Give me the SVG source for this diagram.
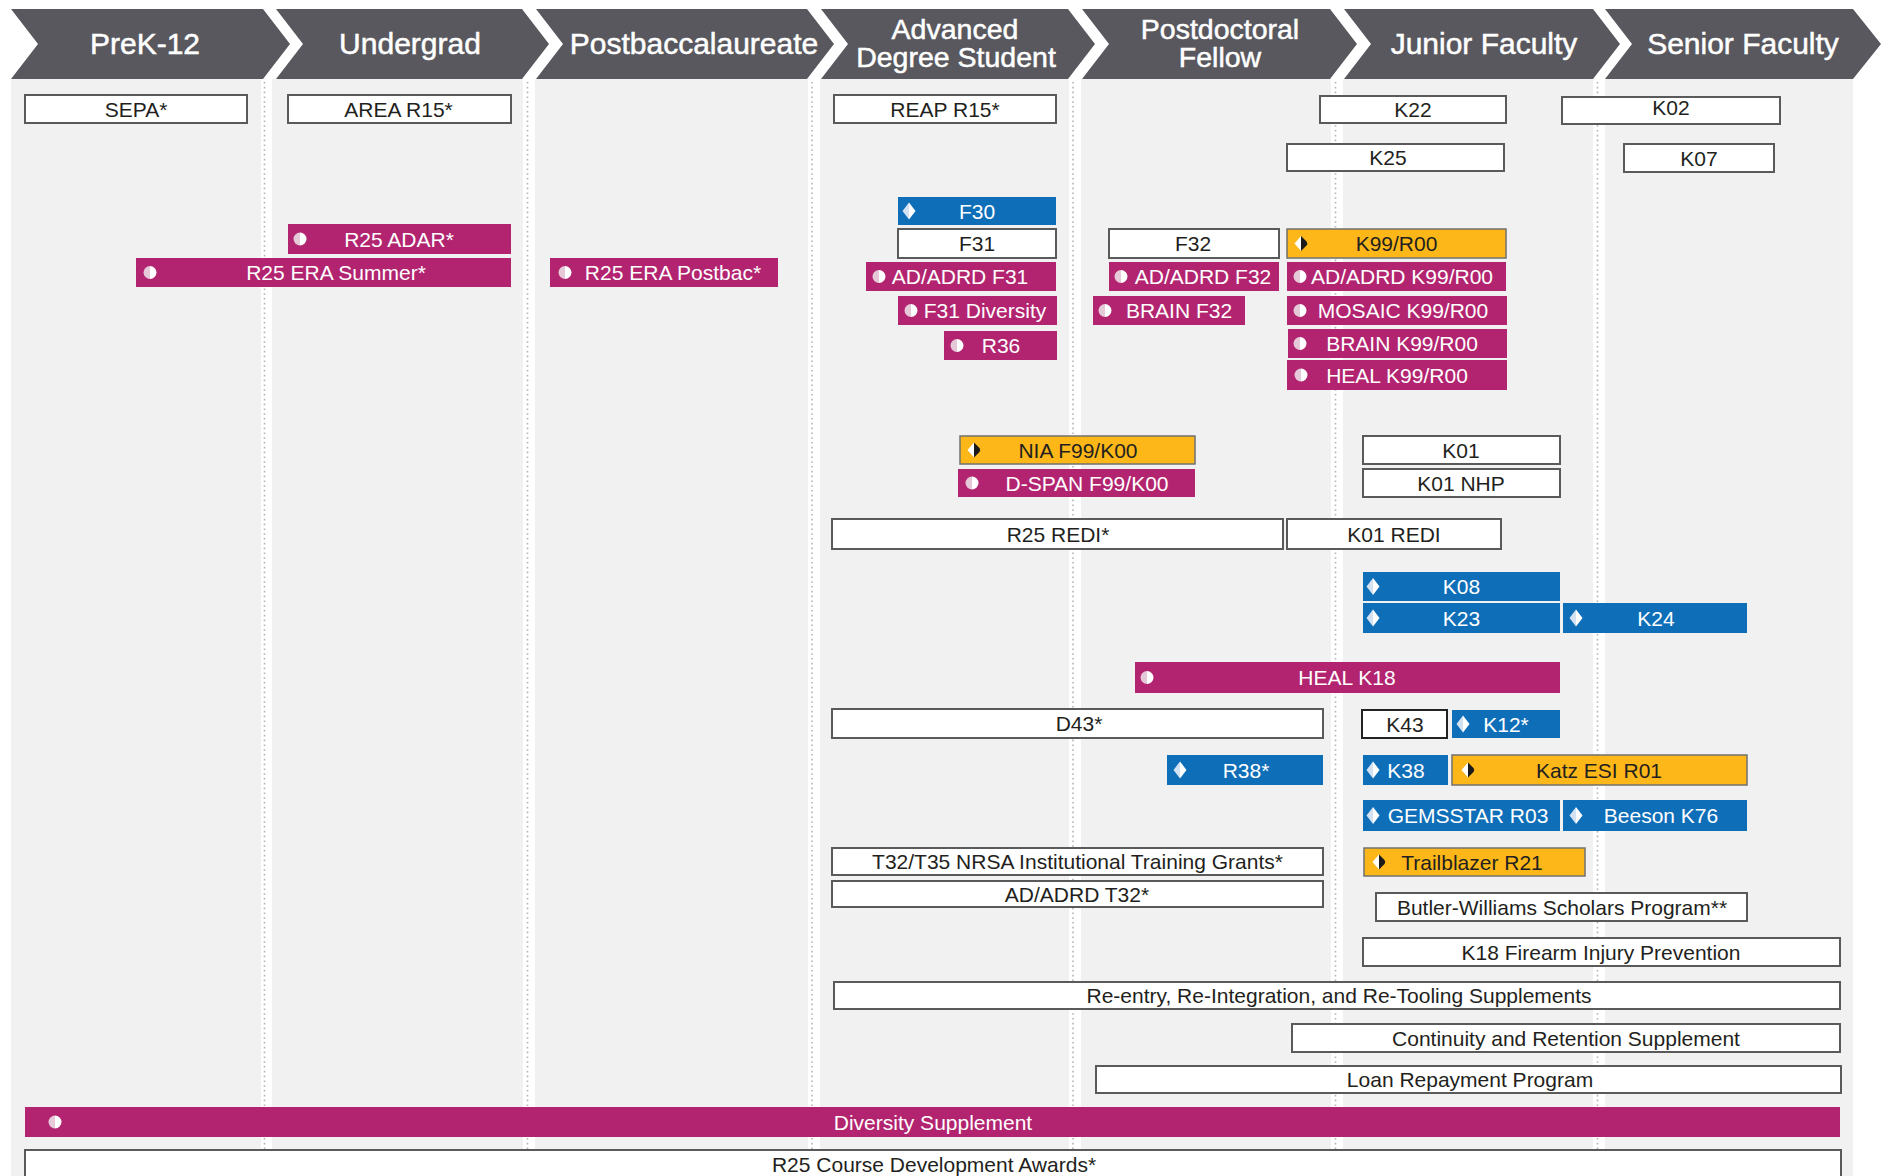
<svg xmlns="http://www.w3.org/2000/svg" width="1890" height="1176" viewBox="0 0 1890 1176">
<style>
.hd{fill:#59585e}
.col{fill:#f1f1f1}
.div{stroke:#b4b4b4;stroke-width:1.6;stroke-dasharray:1.6 3.2;fill:none}
.ht{font-family:"Liberation Sans",Arial,sans-serif;font-size:30px;fill:#fff;stroke:#fff;stroke-width:0.5;text-anchor:middle}
.ht2{font-size:28.5px}
.t{font-family:"Liberation Sans",Arial,sans-serif;font-size:21px;text-anchor:middle}
.w rect{fill:#fff;stroke:#5a5a5a;stroke-width:2}
.w text{fill:#231f20}
.m rect{fill:#b22470}
.m text{fill:#fff}
.b rect{fill:#0e6eb8}
.b text{fill:#fff}
.g rect{fill:#fdb718;stroke:#707070;stroke-width:1.5}
.g text{fill:#231f20}
</style>
<defs>
<g id="icm"><path d="M0,-6.5 A6.5,6.5 0 0 0 0,6.5 Z" fill="#e6c9d8"/><path d="M0,-6.5 A6.5,6.5 0 0 1 0,6.5 Z" fill="#fff"/></g>
<g id="icb"><polygon points="0,-8.5 -6.5,0 0,8.5" fill="#d3e2f2"/><polygon points="0,-8.5 6.5,0 0,8.5" fill="#fff"/></g>
<g id="icg"><polygon points="0,-7.5 -6.5,0 0,7.5" fill="#fff"/><path d="M0,-7.5 L5.5,-2 Q7,0 5.5,2 L0,7.5 Z" fill="#1a1a1a"/></g>
</defs>

<g id="background">
<rect class="col" x="11" y="79" width="250" height="1097"/>
<rect class="col" x="272" y="79" width="251" height="1097"/>
<rect class="col" x="535" y="79" width="273" height="1097"/>
<rect class="col" x="820" y="79" width="249" height="1097"/>
<rect class="col" x="1081" y="79" width="250" height="1097"/>
<rect class="col" x="1343" y="79" width="250" height="1097"/>
<rect class="col" x="1605" y="79" width="248" height="1097"/>
<line class="div" x1="264.5" y1="82" x2="264.5" y2="1176"/>
<line class="div" x1="527.5" y1="82" x2="527.5" y2="1176"/>
<line class="div" x1="812" y1="82" x2="812" y2="1176"/>
<line class="div" x1="1073" y1="82" x2="1073" y2="1176"/>
<line class="div" x1="1335.5" y1="82" x2="1335.5" y2="1176"/>
<line class="div" x1="1597.5" y1="82" x2="1597.5" y2="1176"/>
</g>

<g id="header-prek12"><path class="hd" d="M11,9 L263,9 L290,44 L263,79 L11,79 L38,44 Z"/><text class="ht" x="145" y="54">PreK-12</text></g>
<g id="header-undergrad"><path class="hd" d="M276,9 L522,9 L549,44 L522,79 L276,79 L303,44 Z"/><text class="ht" x="410" y="54">Undergrad</text></g>
<g id="header-postbacc"><path class="hd" d="M536,9 L807,9 L834,44 L807,79 L536,79 L563,44 Z"/><text class="ht" x="694" y="54">Postbaccalaureate</text></g>
<g id="header-advanced"><path class="hd" d="M821,9 L1068,9 L1095,44 L1068,79 L821,79 L848,44 Z"/><text class="ht ht2" x="955" y="39">Advanced</text><text class="ht ht2" x="956" y="67">Degree Student</text></g>
<g id="header-postdoc"><path class="hd" d="M1082,9 L1330,9 L1357,44 L1330,79 L1082,79 L1109,44 Z"/><text class="ht ht2" x="1220" y="39">Postdoctoral</text><text class="ht ht2" x="1220" y="67">Fellow</text></g>
<g id="header-junior"><path class="hd" d="M1344,9 L1593,9 L1620,44 L1593,79 L1344,79 L1371,44 Z"/><text class="ht" x="1484" y="54">Junior Faculty</text></g>
<g id="header-senior"><path class="hd" d="M1605,9 L1853,9 L1881,44 L1853,79 L1605,79 L1632,44 Z"/><text class="ht" x="1743" y="54">Senior Faculty</text></g>

<!-- white boxes -->
<g id="sepa" class="w"><rect x="25" y="95" width="222" height="28"/><text class="t" x="136" y="116.5">SEPA*</text></g>
<g id="area-r15" class="w"><rect x="288" y="95" width="223" height="28"/><text class="t" x="398.5" y="116.5">AREA R15*</text></g>
<g id="reap-r15" class="w"><rect x="834" y="95" width="222" height="28"/><text class="t" x="945" y="116.5">REAP R15*</text></g>
<g id="k22" class="w"><rect x="1320" y="96" width="186" height="27"/><text class="t" x="1413" y="117">K22</text></g>
<g id="k02" class="w"><rect x="1562" y="97" width="218" height="27"/><text class="t" x="1671" y="115">K02</text></g>
<g id="k25" class="w"><rect x="1287" y="144" width="217" height="27"/><text class="t" x="1388" y="165">K25</text></g>
<g id="k07" class="w"><rect x="1624" y="144" width="150" height="28"/><text class="t" x="1699" y="165.5">K07</text></g>
<g id="f31" class="w"><rect x="898" y="229" width="158" height="29"/><text class="t" x="977" y="251">F31</text></g>
<g id="f32" class="w"><rect x="1109" y="229" width="170" height="29"/><text class="t" x="1193" y="251">F32</text></g>
<g id="k01" class="w"><rect x="1363" y="436" width="197" height="28"/><text class="t" x="1461" y="457.5">K01</text></g>
<g id="k01-nhp" class="w"><rect x="1363" y="469" width="197" height="28"/><text class="t" x="1461" y="490.5">K01 NHP</text></g>
<g id="r25-redi" class="w"><rect x="832" y="519" width="451" height="30"/><text class="t" x="1058" y="541.5">R25 REDI*</text></g>
<g id="k01-redi" class="w"><rect x="1287" y="519" width="214" height="30"/><text class="t" x="1394" y="541.5">K01 REDI</text></g>
<g id="d43" class="w"><rect x="832" y="709" width="491" height="29"/><text class="t" x="1079" y="731">D43*</text></g>
<g id="k43" class="w"><rect x="1362" y="710" width="85" height="28" style="stroke:#222"/><text class="t" x="1405" y="731.5">K43</text></g>
<g id="t32-t35" class="w"><rect x="832" y="848" width="491" height="27"/><text class="t" x="1077.5" y="869">T32/T35 NRSA Institutional Training Grants*</text></g>
<g id="adrd-t32" class="w"><rect x="832" y="881" width="491" height="26"/><text class="t" x="1077" y="901.5">AD/ADRD T32*</text></g>
<g id="butler-williams" class="w"><rect x="1376" y="893" width="371" height="28"/><text class="t" x="1562" y="914.5">Butler-Williams Scholars Program**</text></g>
<g id="k18-firearm" class="w"><rect x="1363" y="938" width="477" height="28"/><text class="t" x="1601" y="959.5">K18 Firearm Injury Prevention</text></g>
<g id="reentry" class="w"><rect x="834" y="982" width="1006" height="27"/><text class="t" x="1339" y="1003">Re-entry, Re-Integration, and Re-Tooling Supplements</text></g>
<g id="continuity" class="w"><rect x="1292" y="1024" width="548" height="28"/><text class="t" x="1566" y="1045.5">Continuity and Retention Supplement</text></g>
<g id="loan-repayment" class="w"><rect x="1096" y="1066" width="745" height="27"/><text class="t" x="1470" y="1087">Loan Repayment Program</text></g>
<g id="r25-course" class="w"><rect x="25" y="1150" width="1816" height="40"/><text class="t" x="934" y="1172">R25 Course Development Awards*</text></g>

<!-- magenta -->
<g id="r25-adar" class="m"><rect x="288" y="224" width="223" height="30"/><use href="#icm" x="300" y="239"/><text class="t" x="399" y="246.5">R25 ADAR*</text></g>
<g id="r25-era-summer" class="m"><rect x="136" y="258" width="375" height="29"/><use href="#icm" x="150" y="272.5"/><text class="t" x="336" y="280">R25 ERA Summer*</text></g>
<g id="r25-era-postbac" class="m"><rect x="550" y="258" width="228" height="29"/><use href="#icm" x="565" y="272.5"/><text class="t" x="673" y="280">R25 ERA Postbac*</text></g>
<g id="adrd-f31" class="m"><rect x="866" y="262" width="190" height="29"/><use href="#icm" x="879" y="276.5"/><text class="t" x="960" y="284">AD/ADRD F31</text></g>
<g id="adrd-f32" class="m"><rect x="1109" y="262" width="170" height="29"/><use href="#icm" x="1121" y="276.5"/><text class="t" x="1203" y="284">AD/ADRD F32</text></g>
<g id="adrd-k99" class="m"><rect x="1287" y="262" width="219" height="29"/><use href="#icm" x="1300" y="276.5"/><text class="t" x="1402" y="284">AD/ADRD K99/R00</text></g>
<g id="f31-diversity" class="m"><rect x="898" y="296" width="159" height="29"/><use href="#icm" x="911" y="310.5"/><text class="t" x="985" y="318">F31 Diversity</text></g>
<g id="brain-f32" class="m"><rect x="1093" y="296" width="152" height="29"/><use href="#icm" x="1105" y="310.5"/><text class="t" x="1179" y="318">BRAIN F32</text></g>
<g id="mosaic-k99" class="m"><rect x="1287" y="296" width="220" height="29"/><use href="#icm" x="1300" y="310.5"/><text class="t" x="1403" y="318">MOSAIC K99/R00</text></g>
<g id="r36" class="m"><rect x="944" y="331" width="113" height="29"/><use href="#icm" x="957" y="345.5"/><text class="t" x="1001" y="353">R36</text></g>
<g id="brain-k99" class="m"><rect x="1288" y="329" width="219" height="29"/><use href="#icm" x="1300" y="343.5"/><text class="t" x="1402" y="351">BRAIN K99/R00</text></g>
<g id="heal-k99" class="m"><rect x="1287" y="360" width="220" height="30"/><use href="#icm" x="1301" y="375"/><text class="t" x="1397" y="382.5">HEAL K99/R00</text></g>
<g id="dspan" class="m"><rect x="958" y="469" width="237" height="28"/><use href="#icm" x="972" y="483"/><text class="t" x="1087" y="490.5">D-SPAN F99/K00</text></g>
<g id="heal-k18" class="m"><rect x="1135" y="662" width="425" height="31"/><use href="#icm" x="1147" y="677.5"/><text class="t" x="1347" y="685">HEAL K18</text></g>
<g id="diversity-supplement" class="m"><rect x="25" y="1107" width="1815" height="30"/><use href="#icm" x="55" y="1122"/><text class="t" x="933" y="1129.5">Diversity Supplement</text></g>

<!-- blue -->
<g id="f30" class="b"><rect x="898" y="197" width="158" height="28"/><use href="#icb" x="909" y="211"/><text class="t" x="977" y="218.5">F30</text></g>
<g id="k08" class="b"><rect x="1363" y="572" width="197" height="29"/><use href="#icb" x="1373" y="586.5"/><text class="t" x="1461.5" y="594">K08</text></g>
<g id="k23" class="b"><rect x="1363" y="603" width="197" height="30"/><use href="#icb" x="1373" y="618"/><text class="t" x="1461.5" y="625.5">K23</text></g>
<g id="k24" class="b"><rect x="1563" y="603" width="184" height="30"/><use href="#icb" x="1576" y="618"/><text class="t" x="1656" y="625.5">K24</text></g>
<g id="k12" class="b"><rect x="1452" y="710" width="108" height="28"/><use href="#icb" x="1463" y="724"/><text class="t" x="1506" y="731.5">K12*</text></g>
<g id="r38" class="b"><rect x="1167" y="755" width="156" height="30"/><use href="#icb" x="1180" y="770"/><text class="t" x="1246" y="777.5">R38*</text></g>
<g id="k38" class="b"><rect x="1363" y="755" width="85" height="30"/><use href="#icb" x="1373" y="770"/><text class="t" x="1406" y="777.5">K38</text></g>
<g id="gemsstar" class="b"><rect x="1363" y="800" width="197" height="31"/><use href="#icb" x="1373" y="815.5"/><text class="t" x="1468" y="823">GEMSSTAR R03</text></g>
<g id="beeson" class="b"><rect x="1563" y="800" width="184" height="31"/><use href="#icb" x="1576" y="815.5"/><text class="t" x="1661" y="823">Beeson K76</text></g>

<!-- gold -->
<g id="k99-r00" class="g"><rect x="1287" y="229" width="219" height="29"/><use href="#icg" x="1301" y="243.5"/><text class="t" x="1396.5" y="251">K99/R00</text></g>
<g id="nia-f99" class="g"><rect x="960" y="436" width="235" height="28"/><use href="#icg" x="974" y="450"/><text class="t" x="1078" y="457.5">NIA F99/K00</text></g>
<g id="katz" class="g"><rect x="1452" y="755" width="295" height="30"/><use href="#icg" x="1468" y="770"/><text class="t" x="1599" y="777.5">Katz ESI R01</text></g>
<g id="trailblazer" class="g"><rect x="1364" y="848" width="221" height="28"/><use href="#icg" x="1379" y="862"/><text class="t" x="1472" y="869.5">Trailblazer R21</text></g>
</svg>
